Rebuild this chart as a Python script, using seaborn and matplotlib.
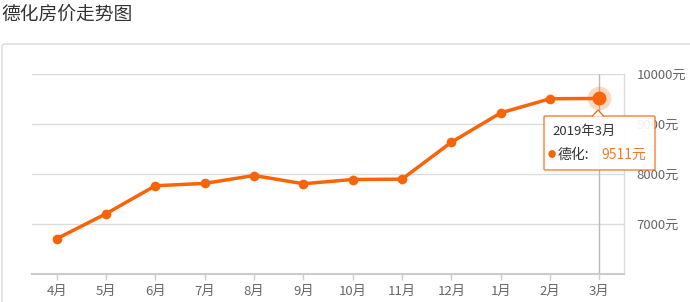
import matplotlib
matplotlib.use("Agg")
import matplotlib.pyplot as plt
import seaborn as sns
import pandas as pd
from matplotlib.patches import FancyBboxPatch, Polygon

months = ["4月", "5月", "6月", "7月", "8月", "9月", "10月", "11月", "12月", "1月", "2月", "3月"]
prices = [6705, 7205, 7765, 7812, 7970, 7805, 7890, 7897, 8635, 9222, 9505, 9511]
ytick_values = [7000, 8000, 9000, 10000]
ytick_labels = ["7000元", "8000元", "9000元", "10000元"]
title = "德化房价走势图"
tip_title = "2019年3月"
tip_series = "德化:"
tip_value = "9511元"

sns.set_theme(style="white")
plt.rcParams['font.family'] = ['Noto Sans CJK SC', 'DejaVu Sans']

W, H = 690, 302
fig = plt.figure(figsize=(W / 100, H / 100), dpi=100)

def fx(px):
    return px / W

def fy(py):
    return 1 - py / H

ax = fig.add_axes([fx(32), fy(274), fx(624) - fx(32), fy(74) - fy(274)])

orange = "#fa6408"
df = pd.DataFrame({"month": months, "price": prices})
sns.lineplot(data=df, x="month", y="price", ax=ax, color=orange, linewidth=2.5,
             marker="o", markersize=7, markeredgewidth=0, sort=False, zorder=5)

ax.set_xlim(-0.5, len(months) - 0.5)
ax.set_ylim(6000, 10000)
ax.set_xlabel("")
ax.set_ylabel("")

# grid lines
for v in ytick_values:
    ax.axhline(v, color="#dcdcdc", linewidth=1, zorder=1)

for s in ["top", "left"]:
    ax.spines[s].set_visible(False)
ax.spines["right"].set_color("#dcdcdc")
ax.spines["right"].set_linewidth(1)
ax.spines["bottom"].set_color("#cccccc")
ax.spines["bottom"].set_linewidth(1.5)

ax.yaxis.tick_right()
ax.set_yticks(ytick_values)
ax.set_yticklabels(ytick_labels)
ax.tick_params(axis="y", length=0, pad=9, labelsize=9.5, labelcolor="#666666")
ax.set_xticks(range(len(months)))
ax.set_xticklabels(months)
ax.tick_params(axis="x", length=4, width=1, color="#cccccc", pad=4, labelsize=9.5,
               labelcolor="#666666", bottom=True)

# axis pointer at last month
last = len(months) - 1
ax.axvline(last, color="#bbbbbb", linewidth=1, zorder=2)
ax.plot([last], [prices[-1]], "o", color=orange, alpha=0.25, markersize=17, markeredgewidth=0, zorder=6)
ax.plot([last], [prices[-1]], "o", color=orange, markersize=10, markeredgewidth=0, zorder=7)

# outer frame
frame = FancyBboxPatch((fx(2), fy(305)), fx(700) - fx(2), fy(44) - fy(305),
                       boxstyle="round,pad=0,rounding_size=0.006", transform=fig.transFigure,
                       facecolor="none", edgecolor="#d9d9d9", linewidth=1, zorder=0)
fig.patches.append(frame)

# title
fig.text(fx(1), fy(14), title, fontsize=13.5, color="#333333", va="center", ha="left")

# tooltip
box = FancyBboxPatch((fx(544), fy(170)), fx(655) - fx(544), fy(116) - fy(170),
                     boxstyle="round,pad=0,rounding_size=0.003", transform=fig.transFigure,
                     facecolor="white", edgecolor=orange, linewidth=0.9, alpha=0.92, zorder=20)
fig.patches.append(box)
tri = Polygon([(fx(592), fy(116.5)), (fx(598), fy(110)), (fx(604), fy(116.5))], closed=False,
              transform=fig.transFigure, facecolor="white", edgecolor=orange, linewidth=0.9, zorder=21)
fig.patches.append(tri)
fig.text(fx(552), fy(131), tip_title, fontsize=9.5, color="#333333", va="center", ha="left", zorder=22)
fig.text(fx(551.5), fy(155), "●", fontsize=6, color=orange, va="center", ha="center", zorder=22)
fig.text(fx(558), fy(155), tip_series, fontsize=10, color="#333333", va="center", ha="left", zorder=22)
fig.text(fx(601), fy(155), tip_value, fontsize=10, color="#f07a2a", va="center", ha="left", zorder=22)

fig.savefig("out.png", dpi=100)
